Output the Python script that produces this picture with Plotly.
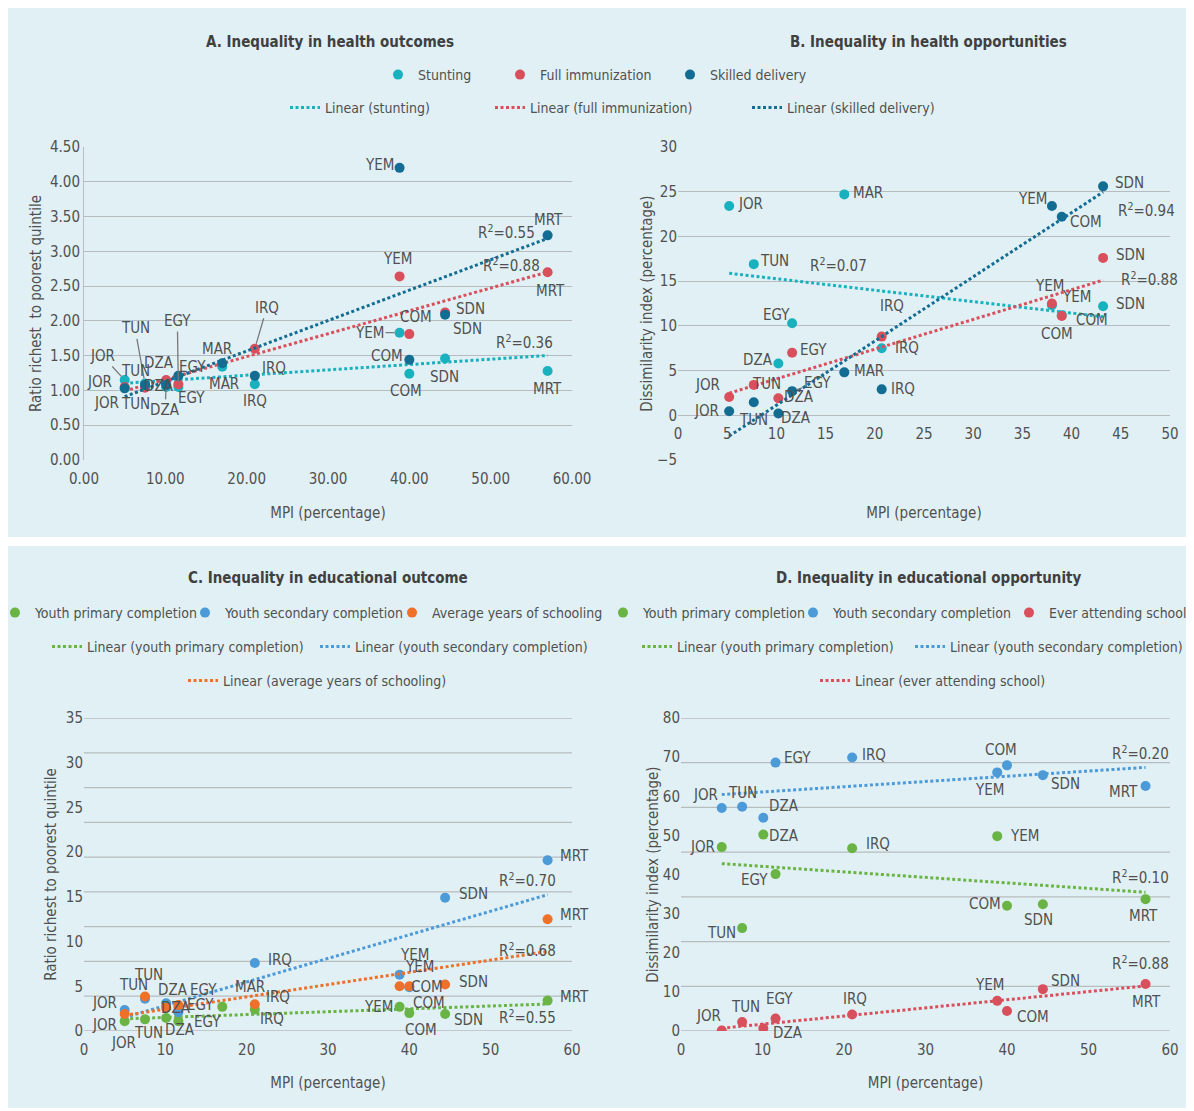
import numpy as np
import plotly.graph_objects as go

# The page adds an 8px body margin, so the figure is drawn 8px lower/right.
OFF = 8
W, H = 1194 - OFF, 1111 - OFF
FONT = "DejaVu Sans Condensed, Liberation Sans Narrow, Arial Narrow, sans-serif"
TXT = "#505050"
GRID = "#b7bcbf"
PANEL_BG = "#e1f0f5"
C_TEAL, C_RED, C_DARK = "#1ab1be", "#d9505d", "#136d92"
C_GREEN, C_BLUE, C_ORANGE = "#6ab445", "#4c9ad8", "#ee7029"

# ---------------- data ----------------
countries = ["JOR", "TUN", "DZA", "EGY", "MAR", "IRQ", "YEM", "COM", "SDN", "MRT"]
mpi = [5.0, 7.5, 10.1, 11.6, 17.0, 21.0, 38.8, 40.0, 44.4, 57.0]

# A. Inequality in health outcomes (ratio richest / poorest quintile)
a_stunting = [1.15, 1.10, 1.05, 1.05, 1.34, 1.09, 1.83, 1.24, 1.46, 1.28]
a_immun = [1.05, 1.04, 1.15, 1.09, None, 1.60, 2.64, 1.81, 2.12, 2.70]
a_skilled = [1.03, 1.08, 1.08, 1.21, 1.39, 1.21, 4.20, 1.44, 2.09, 3.23]
a_r2 = ["R<sup>2</sup>=0.36", "R<sup>2</sup>=0.88", "R<sup>2</sup>=0.55"]

# B. Inequality in health opportunities (dissimilarity index)
countries_b = ["JOR", "TUN", "DZA", "EGY", "MAR", "IRQ", "YEM", "COM", "SDN"]
mpi_b = [5.2, 7.7, 10.2, 11.6, 16.9, 20.7, 38.0, 39.0, 43.2]
b_stunting = [23.4, 16.9, 5.8, 10.3, 24.7, 7.5, 12.3, 11.2, 12.2]
b_immun = [2.05, 3.4, 1.9, 7.0, None, 8.8, 12.5, 11.1, 17.6]
b_skilled = [0.45, 1.45, 0.2, 2.7, 4.8, 2.9, 23.4, 22.2, 25.6]
b_r2 = ["R<sup>2</sup>=0.07", "R<sup>2</sup>=0.88", "R<sup>2</sup>=0.94"]

# C. Inequality in educational outcome (ratio richest / poorest quintile)
c_primary = [1.1, 1.3, 1.45, 1.1, 2.7, 2.4, 2.7, 2.0, 1.9, 3.4]
c_secondary = [2.35, 3.6, 3.1, 2.1, None, 7.6, 6.3, 4.9, 14.9, 19.1]
c_years = [1.9, 3.85, 2.6, 2.9, None, 3.0, 5.0, 5.0, 5.2, 12.5]
c_r2 = ["R<sup>2</sup>=0.55", "R<sup>2</sup>=0.70", "R<sup>2</sup>=0.68"]

# D. Inequality in educational opportunity (dissimilarity index)
d_primary = [47.0, 26.3, 50.2, 40.1, None, 46.7, 49.8, 32.0, 32.4, 33.7]
d_secondary = [57.0, 57.3, 54.5, 68.6, None, 69.9, 66.1, 67.9, 65.4, 62.6]
d_attend = [0.1, 2.3, 0.7, 3.2, None, 4.2, 7.7, 5.1, 10.7, 12.0]
d_r2 = ["R<sup>2</sup>=0.10", "R<sup>2</sup>=0.20", "R<sup>2</sup>=0.88"]

# ---------------- label offsets (pixels: dx, dy down, leader line) ----------------
a_stunting_lbl = [(-22, -24, 1), (-10, -55, 1), (-7, -24, 0), (-1, -66, 1), (2, 17, 0),
                  (0, 17, 0), (-30, 0, 1), (-3, 17, 0), (-1, 19, 0), (0, 18, 0)]
a_immun_lbl = [(-25, -5, 0), (-10, -17, 0), (-7, 6, 0), (13, 14, 0), None,
               (12, -41, 1), (-2, -17, 0), (7, -17, 0), (25, -4, 0), (3, 19, 0)]
a_skilled_lbl = [(-18, 15, 0), (-10, 19, 0), (-1, 25, 1), (14, -9, 0), (-5, -14, 0),
                 (19, -8, 0), (-20, -3, 0), (-22, -4, 0), (22, 14, 0), (1, -15, 0)]
b_stunting_lbl = [(21, -2, 0), (21, -3, 0), (-20, -3, 0), (-16, -8, 0), (24, -1, 0),
                  (25, 0, 0), (25, -8, 0), (30, 5, 0), (27, -2, 0)]
b_immun_lbl = [(-22, -12, 0), (13, -1, 0), (21, -1, 0), (21, -3, 0), None,
               (10, -31, 0), (-2, -18, 0), (-5, 18, 0), (27, -3, 0)]
b_skilled_lbl = [(-23, 0, 0), (0, 18, 0), (18, 4, 0), (25, -8, 1), (25, -1, 0),
                 (21, 0, 0), (-19, -7, 0), (24, 5, 0), (26, -3, 0)]
c_primary_lbl = [(-1, 22, 0), (3, 14, 0), (14, 12, 0), (29, 1, 0), (28, -20, 0),
                 (17, 9, 0), (-21, 0, 0), (12, 17, 0), (23, 6, 0), (27, -4, 0)]
c_secondary_lbl = [(-20, -7, 0), (3, -24, 0), (7, -13, 0), (25, -22, 0), None,
                   (25, -3, 0), (15, -20, 0), (18, 0, 0), (28, -4, 0), (27, -4, 0)]
c_years_lbl = [(-20, 11, 0), (-12, -12, 0), (10, 0, 0), (22, 0, 0), None,
               (23, -7, 0), (20, -19, 0), (20, 17, 0), (28, -3, 0), (27, -4, 0)]
d_primary_lbl = [(-19, 0, 0), (-21, 5, 0), (21, 1, 0), (-21, 6, 0), None,
                 (26, -4, 0), (27, 0, 0), (-22, -2, 0), (-4, 16, 0), (-2, 17, 0)]
d_secondary_lbl = [(-16, -13, 0), (0, -14, 0), (21, -12, 0), (22, -5, 0), None,
                   (22, -3, 0), (-8, 18, 0), (-6, -15, 0), (23, 9, 0), (-22, 6, 0)]
d_attend_lbl = [(-13, -15, 0), (3, -15, 0), (25, 5, 0), (4, -19, 0), None,
                (3, -16, 0), (-8, -16, 0), (26, 6, 0), (23, -8, 0), (1, 18, 0)]

# ---------------- geometry (pixels of the target picture) ----------------
GEO = {
    "A": dict(x0=84, x1=572, top=147, bot=460),
    "B": dict(x0=678, x1=1170, top=147, bot=460),
    "C": dict(x0=84, x1=572, top=718, bot=1031),
    "D": dict(x0=681, x1=1170, top=718, bot=1031),
}


def px(p):
    return (p - OFF) / W


def py(p):
    return 1 - (p - OFF) / H


def xdom(g):
    return [px(g["x0"]), px(g["x1"])]


def ydom(g):
    return [py(g["bot"]), py(g["top"])]


fig = go.Figure()
annotations = []
LBL_FONT = dict(family=FONT, size=15, color=TXT)


def fit_line(xs, ys):
    pts = [(x, y) for x, y in zip(xs, ys) if y is not None]
    ax_ = np.array([p[0] for p in pts])
    ay_ = np.array([p[1] for p in pts])
    k, b = np.polyfit(ax_, ay_, 1)
    xe = np.array([ax_.min(), ax_.max()])
    return xe, k * xe + b


legend_counter = [0]
legend_layouts = {}


def new_legend(text_x, row_y):
    legend_counter[0] += 1
    n = legend_counter[0]
    key = "legend" if n == 1 else f"legend{n}"
    legend_layouts[key] = dict(
        x=px(text_x - 40), xanchor="left", y=py(row_y), yanchor="middle",
        orientation="h", bgcolor="rgba(0,0,0,0)", borderwidth=0,
        font=dict(family=FONT, size=14, color=TXT),
    )
    return key


def add_series(ax, xs, ys, names, color, name, lbl, legend_pt=None, legend_ln=None, trend_name=None):
    xa = "x" if ax == 1 else f"x{ax}"
    ya = "y" if ax == 1 else f"y{ax}"
    xe, ye = fit_line(xs, ys)
    fig.add_trace(go.Scatter(
        x=xe, y=ye, mode="lines", xaxis=xa, yaxis=ya,
        line=dict(color=color, width=3, dash="3px,2.5px"),
        name=trend_name, showlegend=legend_ln is not None,
        legend=legend_ln if legend_ln else "legend", hoverinfo="skip"))
    fig.add_trace(go.Scatter(
        x=xs, y=ys, mode="markers", xaxis=xa, yaxis=ya,
        marker=dict(color=color, size=10, line=dict(width=0)),
        name=name, showlegend=legend_pt is not None,
        legend=legend_pt if legend_pt else "legend"))
    for x, y, n, o in zip(xs, ys, names, lbl):
        if y is None or o is None:
            continue
        dx, dy, lead = o
        if lead:
            annotations.append(dict(x=x, y=y, xref=xa, yref=ya, text=n, showarrow=True,
                                    ax=dx, ay=dy, arrowhead=0, arrowwidth=1.3,
                                    arrowcolor="#7a7a7a", standoff=5, font=LBL_FONT))
        else:
            annotations.append(dict(x=x, y=y, xref=xa, yref=ya, text=n, showarrow=False,
                                    xshift=dx, yshift=-dy, font=LBL_FONT))


# ---------------- legends (text start x, row centre y) ----------------
lA1 = new_legend(418, 75)
lA2 = new_legend(540, 75)
lA3 = new_legend(710, 75)
lA4 = new_legend(325, 108)
lA5 = new_legend(530, 108)
lA6 = new_legend(787, 108)
lC1 = new_legend(35, 613)
lC2 = new_legend(225, 613)
lC3 = new_legend(432, 613)
lC4 = new_legend(87, 647)
lC5 = new_legend(355, 647)
lC6 = new_legend(223, 681)
lD1 = new_legend(643, 613)
lD2 = new_legend(833, 613)
lD3 = new_legend(1049, 613)
lD4 = new_legend(677, 647)
lD5 = new_legend(950, 647)
lD6 = new_legend(855, 681)

# Panel A
add_series(1, mpi, a_stunting, countries, C_TEAL, "Stunting", a_stunting_lbl, lA1, lA4, "Linear (stunting)")
add_series(1, mpi, a_immun, countries, C_RED, "Full immunization", a_immun_lbl, lA2, lA5, "Linear (full immunization)")
add_series(1, mpi, a_skilled, countries, C_DARK, "Skilled delivery", a_skilled_lbl, lA3, lA6, "Linear (skilled delivery)")
# Panel B
add_series(2, mpi_b, b_stunting, countries_b, C_TEAL, "Stunting", b_stunting_lbl, None, None, "Linear (stunting)")
add_series(2, mpi_b, b_immun, countries_b, C_RED, "Full immunization", b_immun_lbl, None, None, "Linear (full immunization)")
add_series(2, mpi_b, b_skilled, countries_b, C_DARK, "Skilled delivery", b_skilled_lbl, None, None, "Linear (skilled delivery)")
# Panel C
add_series(3, mpi, c_primary, countries, C_GREEN, "Youth primary completion", c_primary_lbl, lC1, lC4, "Linear (youth primary completion)")
add_series(3, mpi, c_secondary, countries, C_BLUE, "Youth secondary completion", c_secondary_lbl, lC2, lC5, "Linear (youth secondary completion)")
add_series(3, mpi, c_years, countries, C_ORANGE, "Average years of schooling", c_years_lbl, lC3, lC6, "Linear (average years of schooling)")
# Panel D
add_series(4, mpi, d_primary, countries, C_GREEN, "Youth primary completion", d_primary_lbl, lD1, lD4, "Linear (youth primary completion)")
add_series(4, mpi, d_secondary, countries, C_BLUE, "Youth secondary completion", d_secondary_lbl, lD2, lD5, "Linear (youth secondary completion)")
add_series(4, mpi, d_attend, countries, C_RED, "Ever attending school", d_attend_lbl, lD3, lD6, "Linear (ever attending school)")

# R² annotations (data coordinates near trend-line ends)
r2_pos = [
    ("x", "y", [(54.2, 1.70), (52.5, 2.80), (52.0, 3.28)], a_r2),
    ("x2", "y2", [(16.3, 16.8), (47.9, 15.2), (47.6, 23.0)], b_r2),
    ("x3", "y3", [(54.5, 1.6), (54.5, 16.9), (54.5, 9.1)], c_r2),
    ("x4", "y4", [(56.4, 39.4), (56.4, 71.1), (56.4, 17.4)], d_r2),
]
for xr, yr, pos, texts in r2_pos:
    for (x, y), t in zip(pos, texts):
        annotations.append(dict(x=x, y=y, xref=xr, yref=yr, text=t, showarrow=False, font=LBL_FONT))

# Panel titles
TITLE_FONT = dict(family=FONT, size=15, color="#404040")
for tx, ty, t in [(330, 42, "A. Inequality in health outcomes"),
                  (928, 42, "B. Inequality in health opportunities"),
                  (328, 578, "C. Inequality in educational outcome"),
                  (928, 578, "D. Inequality in educational opportunity")]:
    annotations.append(dict(x=px(tx), y=py(ty), xref="paper", yref="paper", showarrow=False,
                            text=f"<b>{t}</b>", font=TITLE_FONT, xanchor="center", yanchor="middle"))

# ---------------- axes ----------------
TICK_FONT = dict(family=FONT, size=15, color=TXT)
AXT_FONT = dict(family=FONT, size=15, color=TXT)


def xa(g, rng, dtick, fmt, anchor, standoff, **kw):
    d = dict(domain=xdom(g), range=rng, dtick=dtick, tick0=0, tickformat=fmt, anchor=anchor,
             showgrid=False, zeroline=False, showline=False, ticks="", tickfont=TICK_FONT,
             ticklabelstandoff=8,
             title=dict(text="MPI (percentage)", font=AXT_FONT, standoff=standoff),
             automargin=False, fixedrange=True)
    d.update(kw)
    return d


def ya(g, rng, dtick, fmt, anchor, title, standoff, grid=True, **kw):
    d = dict(domain=ydom(g), range=rng, dtick=dtick, tick0=0, tickformat=fmt, anchor=anchor,
             showgrid=grid, gridcolor=GRID, gridwidth=1.3, zeroline=False, showline=False,
             ticks="", tickfont=TICK_FONT,
             title=dict(text=title, font=AXT_FONT, standoff=standoff), automargin=False, fixedrange=True)
    d.update(kw)
    return d


gB = GEO["B"]
b_dom = ydom(gB)
b_zero = b_dom[0] + (0 - (-5)) / 35 * (b_dom[1] - b_dom[0])

fig.update_layout(
    xaxis=xa(GEO["A"], [0, 60], 10, ".2f", "y", 20),
    yaxis=ya(GEO["A"], [0, 4.5001], 0.5, ".2f", "x", "Ratio richest  to poorest quintile", 4,
             showline=True, linecolor=GRID, linewidth=1),
    xaxis2=xa(gB, [0, 50], 5, "d", "free", 65, position=b_zero),
    yaxis2=ya(gB, [-5, 30.001], 5, "d", "x2", "Dissimilarity index (percentage)", 0),
    xaxis3=xa(GEO["C"], [0, 60], 10, "d", "y3", 19),
    yaxis3=ya(GEO["C"], [0, 35.001], 5, "d", "x3", "Ratio richest to poorest quintile", 5, grid=False),
    xaxis4=xa(GEO["D"], [0, 60], 10, "d", "y4", 19),
    yaxis4=ya(GEO["D"], [0, 80.001], 10, "d", "x4", "Dissimilarity index (percentage)", 0, grid=False),
)

shapes = []
# panel backgrounds
shapes.append(dict(type="rect", xref="paper", yref="paper", x0=0, x1=1, y0=py(537), y1=1,
                   fillcolor=PANEL_BG, line=dict(width=0), layer="below"))
shapes.append(dict(type="rect", xref="paper", yref="paper", x0=0, x1=1, y0=py(1108), y1=py(546),
                   fillcolor=PANEL_BG, line=dict(width=0), layer="below"))
# evenly spaced gridlines of panels C and D (independent of tick labels, as in the original)
for yref, xref, top, n in [("y3", "x3 domain", 35, 9), ("y4", "x4 domain", 80, 7)]:
    for k in range(n + 1):
        yy = k * top / n
        shapes.append(dict(type="line", xref=xref, yref=yref, x0=0, x1=1, y0=yy, y1=yy,
                           line=dict(color=GRID, width=1.3), layer="below"))

fig.update_layout(
    width=W, height=H, margin=dict(l=0, r=0, t=0, b=0, autoexpand=False),
    paper_bgcolor="white", plot_bgcolor="rgba(0,0,0,0)",
    font=dict(family=FONT, size=15, color=TXT),
    annotations=annotations, shapes=shapes, template="none",
    **legend_layouts,
)

fig.write_html("out.html")
